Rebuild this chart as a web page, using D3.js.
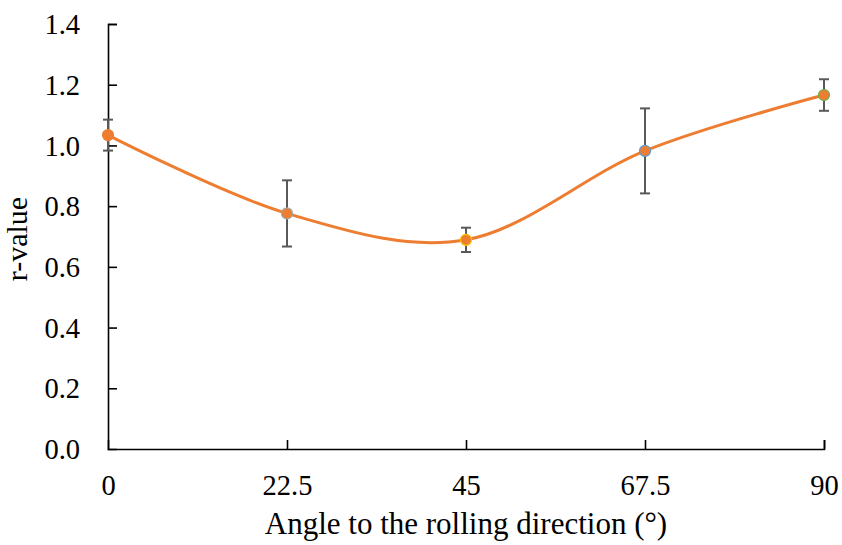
<!DOCTYPE html>
<html>
<head>
<meta charset="utf-8">
<script src="https://cdn.jsdelivr.net/npm/d3@7"></script>
<style>
  body { margin: 0; background: #fff; }
  svg { display: block; }
  text { font-family: "Liberation Serif", "Times New Roman", serif; fill: #000; }
</style>
</head>
<body>
<svg id="chart" width="842" height="545"></svg>
<script>
// Data
const angles = [0, 22.5, 45, 67.5, 90];
const rValues = [1.034, 0.776, 0.689, 0.982, 1.166];
const errors = [0.051, 0.109, 0.040, 0.140, 0.052];
const xTicks = [0, 22.5, 45, 67.5, 90];
const yTicks = [0, 0.2, 0.4, 0.6, 0.8, 1.0, 1.2, 1.4];
const ringColors = ["#ed7d31", "#a5a5a5", "#ffc000", "#5b9bd5", "#70ad47"];

const svg = d3.select("#chart");
const x = d3.scaleLinear().domain([0, 90]).range([108, 824]);
const y = d3.scaleLinear().domain([0, 1.4]).range([449, 24]);

// Axes
const xAxis = d3.axisBottom(x).tickValues(xTicks).tickSize(-9).tickPadding(26)
  .tickFormat(d => String(d));
const yAxis = d3.axisLeft(y).tickValues(yTicks).tickSize(-9).tickPadding(28)
  .tickFormat(d3.format(".1f"));

const gx = svg.append("g").attr("transform", "translate(0,449)").call(xAxis);
const gy = svg.append("g").attr("transform", "translate(108,0)").call(yAxis);
[gx, gy].forEach(g => {
  g.select(".domain").attr("stroke", "#000").attr("stroke-width", 1.6);
  g.selectAll(".tick line").attr("stroke", "#000").attr("stroke-width", 1.6);
  g.selectAll(".tick text").attr("font-size", 28.5).attr("font-family", "Liberation Serif");
});
gx.selectAll(".tick text").attr("dy", "0.71em");
gy.selectAll(".tick text").attr("dy", "0.34em");
gx.selectAll(".tick").filter(d => d === 0).select("line").attr("stroke", "none");
gy.selectAll(".tick").filter(d => d === 0).select("line").attr("stroke", "none");

// Axis titles
svg.append("text")
  .attr("x", 466).attr("y", 534)
  .attr("text-anchor", "middle").attr("font-size", 31)
  .text("Angle to the rolling direction (°)");
svg.append("text")
  .attr("transform", "translate(27,239) rotate(-90)")
  .attr("text-anchor", "middle").attr("font-size", 30)
  .text("r-value");

const pts = angles.map((a, i) => ({ a, v: rValues[i], e: errors[i], c: ringColors[i] }));

// Smooth line
const line = d3.line().x(d => x(d.a)).y(d => y(d.v)).curve(d3.curveCardinal.tension(0));
svg.append("path").datum(pts)
  .attr("d", line)
  .attr("fill", "none")
  .attr("stroke", "#ed7d31")
  .attr("stroke-width", 3);

// Error bars
const eb = svg.append("g").attr("stroke", "#595959").attr("stroke-width", 2);
pts.forEach(d => {
  const cx = x(d.a), y1 = y(d.v + d.e), y2 = y(d.v - d.e);
  eb.append("line").attr("x1", cx).attr("x2", cx).attr("y1", y1).attr("y2", y2);
  eb.append("line").attr("x1", cx - 5).attr("x2", cx + 5).attr("y1", y1).attr("y2", y1);
  eb.append("line").attr("x1", cx - 5).attr("x2", cx + 5).attr("y1", y2).attr("y2", y2);
});

// Markers
svg.append("g").selectAll("circle").data(pts).join("circle")
  .attr("cx", d => x(d.a))
  .attr("cy", d => y(d.v))
  .attr("r", 5.5)
  .attr("fill", "#ed7d31")
  .attr("stroke", d => d.c)
  .attr("stroke-width", 1.2);
</script>
</body>
</html>
